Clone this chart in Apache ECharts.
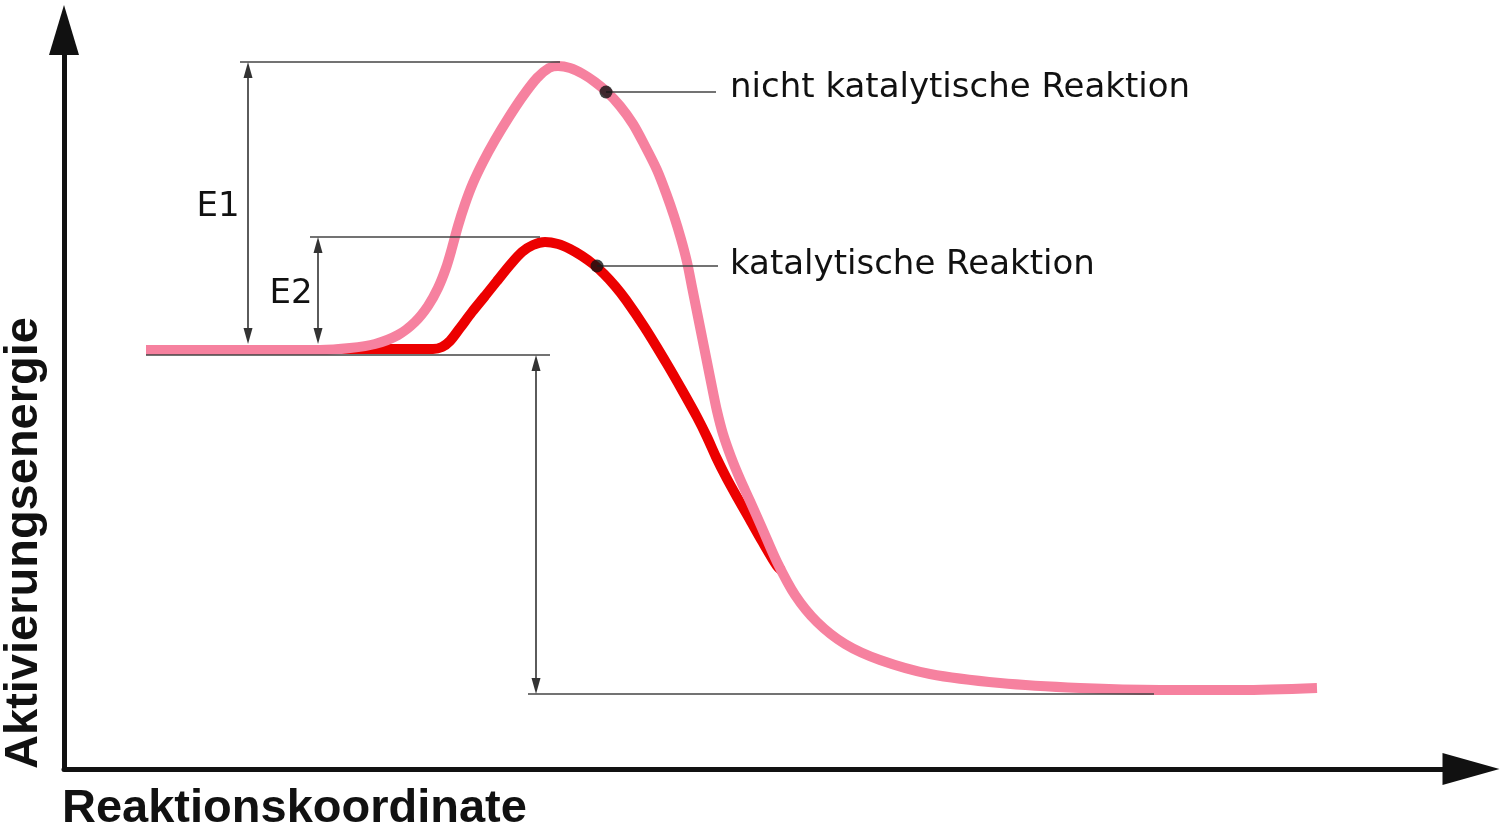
<!DOCTYPE html>
<html><head><meta charset="utf-8">
<script src="https://cdn.jsdelivr.net/npm/echarts@6/dist/echarts.min.js"></script>
<style>html,body{margin:0;padding:0;background:#fff}#c{width:1500px;height:829px}</style>
</head><body><div id="c"></div>
<script>
// Reaction coordinate (x) and energy (y) in arbitrary units
const pinkCurve = [
  [82,419],[186,419],[256,419],[286,421],[311,425],[334,434],[351,447],[364,463],
  [374,481],[382,501],[388,521],[394,543],[401,565],[409,586],[419,607],[431,629],
  [445,652],[459,673],[473,691],[485,701],[494,703],[506,701],[519,695],[531,687],
  [543,677],[556,663],[569,645],[581,623],[593,599],[602,576],[610,553],[617,530],
  [623,507],[628,482],[633,457],[638,432],[643,407],[648,382],[653,358],[659,335],
  [667,312],[676,290],[686,268],[698,241],[713,207],[731,174],[753,147],[781,125],
  [816,109],[866,95],[936,86],[1016,81],[1096,79],[1176,79],[1253,81]
];
const redCurve = [
  [276,420],[369,420],[378,422],[386,428],[396,441],[408,457],[421,473],[433,488],
  [446,504],[458,517],[469,524],[481,527],[494,525],[506,520],[518,513],[529,505],
  [540,495],[551,483],[562,469],[581,441],[603,405],[618,379],[633,352],[643,332],
  [652,312],[662,292],[673,272],[685,251],[698,228],[713,203],[718,198]
];
// guide lines (levels) and dimension arrows
const guideLines = [
  [[176,707],[496,707]],
  [[246,532],[476,532]],
  [[82,414],[486,414]],
  [[464,75],[1090,75]],
  [[542,677],[652,677]],
  [[533,503],[654,503]]
];
const arrowLines = [
  [[184,699],[184,433]],
  [[254,524],[254,433]],
  [[472,406],[472,83]]
];
const labelDots = [[542,677],[533,503]];
const yTitle = 'Aktivierungsenergie';
const xTitle = 'Reaktionskoordinate';
const curveNames = ['nicht katalytische Reaktion', 'katalytische Reaktion'];
const energyLabels = ['E1', 'E2'];

const chart = echarts.init(document.getElementById('c'));
const small = '34px "DejaVu Sans"';
const big = 'bold 47px "Liberation Sans"';
chart.setOption({
  animation: false,
  backgroundColor: '#fff',
  grid: { left: 64, right: 29, top: 30, bottom: 60 },
  xAxis: {
    type: 'value', min: 0, max: 1407,
    axisLine: { show: true, symbol: ['none', 'triangle'], symbolSize: [32, 57],
      lineStyle: { color: '#111', width: 5 } },
    axisTick: { show: false }, axisLabel: { show: false }, splitLine: { show: false }
  },
  yAxis: {
    type: 'value', min: 0, max: 739,
    axisLine: { show: true, symbol: ['none', 'triangle'], symbolSize: [30, 50],
      lineStyle: { color: '#111', width: 5 } },
    axisTick: { show: false }, axisLabel: { show: false }, splitLine: { show: false }
  },
  series: [
    {
      type: 'line', name: curveNames[1], data: redCurve, smooth: 0.3, showSymbol: false,
      lineStyle: { color: '#EC0000', width: 10 }, z: 2, silent: true,
      markLine: {
        silent: true, animation: false, symbol: ['none', 'none'], z: 4,
        label: { show: false }, emphasis: { disabled: true },
        lineStyle: { color: '#444', width: 1.6, type: 'solid' },
        data: guideLines.map(([a, b]) => [{ coord: a }, { coord: b }])
      }
    },
    {
      type: 'line', name: curveNames[0], data: pinkCurve, smooth: 0.3, showSymbol: false,
      lineStyle: { color: '#F6819F', width: 10 }, z: 3, silent: true,
      markLine: {
        silent: true, animation: false, symbol: ['triangle', 'triangle'], symbolSize: [9, 16], z: 4,
        label: { show: false }, emphasis: { disabled: true },
        lineStyle: { color: '#333', width: 1.6, type: 'solid' },
        itemStyle: { color: '#222' },
        data: arrowLines.map(([a, b]) => [{ coord: a }, { coord: b }])
      }
    },
    {
      type: 'scatter', data: labelDots, symbolSize: 13, z: 6, silent: true,
      itemStyle: { color: '#111' }
    }
  ],
  graphic: [
    { type: 'text', x: 24, y: 543, rotation: Math.PI / 2,
      style: { text: yTitle, font: big, fill: '#111', align: 'center', verticalAlign: 'middle' } },
    { type: 'text', x: 62, y: 809,
      style: { text: xTitle, font: big, fill: '#111', align: 'left', verticalAlign: 'middle' } },
    { type: 'text', x: 218, y: 207,
      style: { text: energyLabels[0], font: small, fill: '#111', align: 'center', verticalAlign: 'middle' } },
    { type: 'text', x: 291, y: 294,
      style: { text: energyLabels[1], font: small, fill: '#111', align: 'center', verticalAlign: 'middle' } },
    { type: 'text', x: 730, y: 88,
      style: { text: curveNames[0], font: small, fill: '#111', align: 'left', verticalAlign: 'middle' } },
    { type: 'text', x: 730, y: 265,
      style: { text: curveNames[1], font: small, fill: '#111', align: 'left', verticalAlign: 'middle' } }
  ]
});
</script></body></html>
